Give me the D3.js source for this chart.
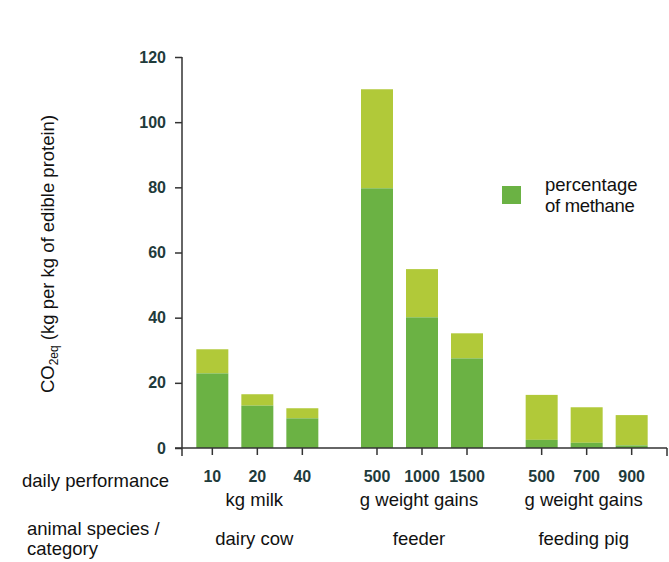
<!DOCTYPE html>
<html>
<head>
<meta charset="utf-8">
<script src="https://cdn.jsdelivr.net/npm/d3@7"></script>
<style>
  body { margin: 0; background: #fff; }
  svg { display: block; font-family: "Liberation Sans", Arial, sans-serif; }
  .tick-num { font-weight: bold; fill: #1f3b3b; }
</style>
</head>
<body>
<svg id="chart" width="669" height="562"></svg>
<script>
// data
const groups = ['dairy cow', 'feeder', 'feeding pig']
const units = ['kg milk', 'g weight gains', 'g weight gains']
const performance = [['10', '20', '40'], ['500', '1000', '1500'], ['500', '700', '900']]
const totalValues = [[30.3, 16.5, 12.2], [110.1, 54.9, 35.2], [16.3, 12.5, 10.1]]
const methaneValues = [[22.9, 13.0, 9.1], [79.7, 40.1, 27.5], [2.5, 1.6, 0.8]]
const yTicks = [0, 20, 40, 60, 80, 100, 120]

const COLOR_METHANE = '#6bb244'
const COLOR_REST = '#b1c939'
const AXIS = '#333'
const TXT = 18.5

let svg = d3.select('#chart')

let y = d3.scaleLinear().domain([0, 120]).range([448, 57])
let xGroup = d3.scaleBand().domain(groups).range([175, 669])
let xBar = d3.scaleBand().domain([0, 1, 2])
  .range([0, xGroup.bandwidth()])
  .paddingInner(0.289)
  .paddingOuter(0.474)

// bars
groups.forEach((g, gi) => {
  let gEl = svg.append('g').attr('transform', `translate(${xGroup(g)},0)`)
  totalValues[gi].forEach((v, i) => {
    gEl.append('rect')
      .attr('x', xBar(i))
      .attr('width', xBar.bandwidth())
      .attr('y', y(v))
      .attr('height', y(methaneValues[gi][i]) - y(v))
      .attr('fill', COLOR_REST)
    gEl.append('rect')
      .attr('x', xBar(i))
      .attr('width', xBar.bandwidth())
      .attr('y', y(methaneValues[gi][i]))
      .attr('height', y(0) - y(methaneValues[gi][i]))
      .attr('fill', COLOR_METHANE)
  })

  // per-group axis with the daily performance numbers
  let axis = d3.axisBottom(xBar)
    .tickSize(7)
    .tickPadding(15.5)
    .tickFormat((d) => performance[gi][d])
  let ax = gEl.append('g')
    .attr('transform', `translate(0,${y(0)})`)
    .call(axis)
  ax.select('.domain').remove()
  ax.selectAll('line').attr('stroke', AXIS).attr('stroke-width', 1.5)
  ax.selectAll('text')
    .attr('class', 'tick-num')
    .attr('font-size', 16)
    .attr('font-family', '"Liberation Sans", Arial, sans-serif')

  gEl.append('text')
    .attr('x', xGroup.bandwidth() / 2 - 3)
    .attr('y', 506)
    .attr('text-anchor', 'middle')
    .attr('font-size', TXT)
    .attr('fill', '#111')
    .text(units[gi])

  gEl.append('text')
    .attr('x', xGroup.bandwidth() / 2 - 3)
    .attr('y', 545)
    .attr('text-anchor', 'middle')
    .attr('font-size', TXT)
    .attr('fill', '#111')
    .text(groups[gi])
})

// y axis
let yAxis = d3.axisLeft(y).tickValues(yTicks).tickSize(7).tickPadding(9)
let ya = svg.append('g').attr('transform', 'translate(182,0)').call(yAxis)
ya.select('.domain').remove()
ya.selectAll('line').attr('stroke', AXIS).attr('stroke-width', 1.5)
ya.selectAll('text')
  .attr('class', 'tick-num')
  .attr('font-size', 16)
  .attr('font-family', '"Liberation Sans", Arial, sans-serif')

svg.append('line')
  .attr('x1', 182).attr('x2', 182)
  .attr('y1', y(120)).attr('y2', y(0) + 8)
  .attr('stroke', AXIS).attr('stroke-width', 1.5)

// x baseline with end ticks
svg.append('line')
  .attr('x1', 175).attr('x2', 667)
  .attr('y1', y(0)).attr('y2', y(0))
  .attr('stroke', AXIS).attr('stroke-width', 1.5)
svg.append('line')
  .attr('x1', 667).attr('x2', 667)
  .attr('y1', y(0)).attr('y2', y(0) + 8)
  .attr('stroke', AXIS).attr('stroke-width', 1.5)

// y label
let yl = svg.append('text')
  .attr('transform', 'translate(54,254) rotate(-90)')
  .attr('text-anchor', 'middle')
  .attr('font-size', TXT)
  .attr('fill', '#111')
yl.append('tspan').text('CO')
yl.append('tspan').attr('font-size', 12).attr('dy', 4).text('2eq')
yl.append('tspan').attr('dy', -4).text(' (kg per kg of edible protein)')

// legend
svg.append('rect')
  .attr('x', 502).attr('y', 186)
  .attr('width', 19).attr('height', 18)
  .attr('fill', COLOR_METHANE)
svg.append('text')
  .attr('x', 545).attr('y', 191)
  .attr('font-size', TXT).attr('fill', '#111')
  .text('percentage')
svg.append('text')
  .attr('x', 545).attr('y', 212)
  .attr('font-size', TXT).attr('fill', '#111')
  .attr('letter-spacing', -0.3)
  .text('of methane')

// row labels
svg.append('text')
  .attr('x', 22).attr('y', 487)
  .attr('font-size', TXT).attr('fill', '#111')
  .text('daily performance')
svg.append('text')
  .attr('x', 27).attr('y', 535)
  .attr('font-size', TXT).attr('fill', '#111')
  .text('animal species /')
svg.append('text')
  .attr('x', 27).attr('y', 555)
  .attr('font-size', TXT).attr('fill', '#111')
  .text('category')
</script>
</body>
</html>
